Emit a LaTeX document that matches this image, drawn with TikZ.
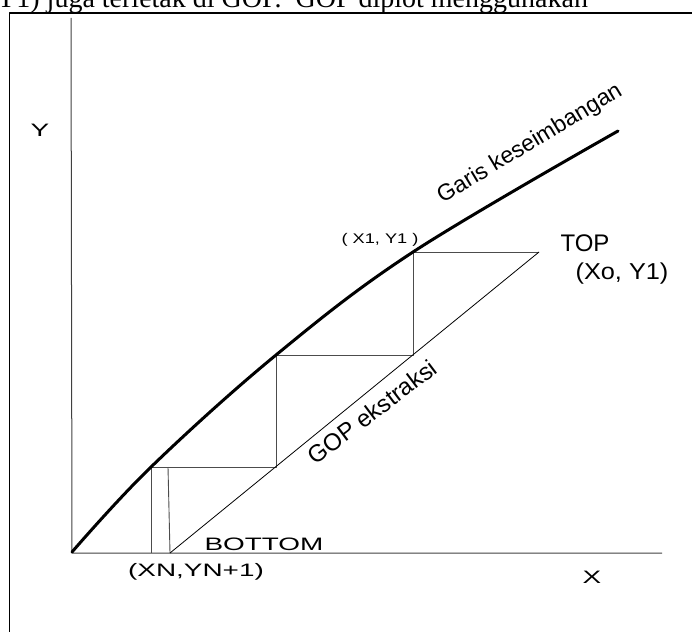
\documentclass[tikz,border=0pt]{standalone}
\usepackage{fontspec}
\usepackage{tikz}
\newfontfamily\arialf{Liberation Sans}
\newfontfamily\timesf{Liberation Serif}

\begin{document}
\begin{tikzpicture}[x=1pt,y=-1pt,line join=round,
  stepline/.style={draw=black!70,line width=0.9pt},
  axisline/.style={draw=black!75,line width=1pt},
  lbl/.style={inner sep=0pt,font=\arialf\fontsize{18}{18}\selectfont},
  wide/.style={transform shape,xscale=#1}]
  \useasboundingbox (0,0) rectangle (692,631);
  % page text and frame
  \begin{scope}
    \clip (0,0) rectangle (692,631);
    \node[anchor=base west,inner sep=0pt,font=\timesf\fontsize{28}{28}\selectfont] (pagetxt) at (-4,8) {Y1) juga terletak di GOP.\ \ GOP diplot menggunakan};
    \draw[line width=1.6pt] (9.5,640) -- (9.5,13) -- (700,13);
  \end{scope}
  \coordinate (O) at (72,553);
  \coordinate (XE) at (662,553);
  \coordinate (YE) at (71,18);
  \coordinate (T1) at (413,252);
  \coordinate (TOPp) at (539,252);
  \coordinate (S1) at (413,355);
  \coordinate (E2) at (276,355);
  \coordinate (S2) at (276,467);
  \coordinate (E3) at (151,467);
  \coordinate (E3b) at (151,553);
  \coordinate (S3) at (168,467);
  \coordinate (BOT) at (170,553);
  % axes
  \draw[axisline] (YE) -- (O) -- (XE);
  % steps
  \draw[stepline] (T1) -- (TOPp);
  \draw[stepline] (T1) -- (S1) -- (E2) -- (S2) -- (E3) -- (E3b);
  \draw[stepline] (S3) -- (BOT);
  % operating line
  \draw[line width=0.8pt] (BOT) -- (TOPp);
  % equilibrium curve
  \draw[line width=3pt,line cap=round] plot[smooth,tension=0.6] coordinates {(72,552) (151,467) (276,355) (413,252) (618,131)};
  % labels
  \node[lbl,wide=1.55] (ylab) at (40,130) {Y};
  \node[lbl,wide=1.55] (xlab) at (592,577) {X};
  \node[lbl,font=\arialf\fontsize{24}{24}\selectfont] (toplab) at (585,243) {TOP};
  \node[lbl,font=\arialf\fontsize{23}{23}\selectfont,wide=1.1] (xoy1) at (622,274) {(Xo,\ Y1)};
  \node[lbl,font=\arialf\fontsize{14}{14}\selectfont,wide=1.3] (x1y1) at (380,240) {( X1, Y1 )};
  \node[lbl,font=\arialf\fontsize{23}{23}\selectfont,rotate=31] (garis) at (530,144) {Garis keseimbangan};
  \node[lbl,font=\arialf\fontsize{24}{24}\selectfont,rotate=37] (gop) at (372,412) {GOP ekstraksi};
  \node[lbl,wide=1.55] (botlab) at (264,544) {BOTTOM};
  \node[lbl,wide=1.55] (xnyn) at (196,572) {(XN,YN+1)};
\end{tikzpicture}
\end{document}
